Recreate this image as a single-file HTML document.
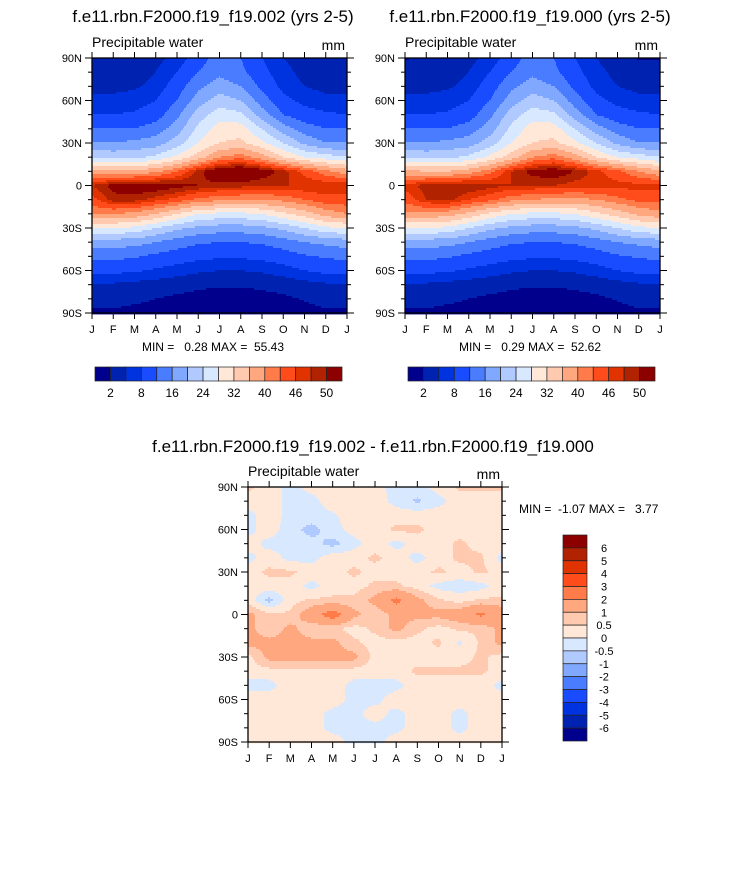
<!DOCTYPE html>
<html><head><meta charset="utf-8"><style>
body{margin:0;background:#fff;font-family:"Liberation Sans",sans-serif;}
svg text{font-family:"Liberation Sans",sans-serif;fill:#000;white-space:pre;}
</style></head><body>
<svg id="root" width="733" height="869" viewBox="0 0 733 869" xmlns="http://www.w3.org/2000/svg">
<rect width="733" height="869" fill="#fff"/>
</svg>
<script>
const months = ["J","F","M","A","M","J","J","A","S","O","N","D","J"];
const lats = [90,80,70,60,50,40,30,20,10,0,-10,-20,-30,-40,-50,-60,-70,-80,-90];
const latTicks = ["90N","60N","30N","0","30S","60S","90S"];
const colors = ["#00008c","#0022b0","#0033e0","#1a4cff","#4a7cff","#80a8ff","#b0caff","#d8e8ff","#ffe8d8","#ffcab0","#ffa880","#ff7c4a","#ff4c1a","#e03300","#b02200","#8c0000"];
const pwLevels = [2,5,8,12,16,20,24,28,32,36,40,43,46,48,50];
const pwLabels = ["2","8","16","24","32","40","46","50"];
const diffLevels = [-6,-5,-4,-3,-2,-1,-0.5,0,0.5,1,2,3,4,5,6];
const diffLabels = ["-6","-5","-4","-3","-2","-1","-0.5","0","0.5","1","2","3","4","5","6"];
const pw002 = [
[3,3,3,4,6,10,14,12,8,5,3.5,3,3],
[3.5,3.5,3.5,5,8,12,15,13,9,6,4,3.5,3.5],
[3.8,4,4.5,6,10,15,18,16,11,7,5,4,3.8],
[6,6,6.5,8,12,18,22,20,14,9,7,6,6],
[8,8,8.5,10,15,22,26,25,18,12,9.5,8.5,8],
[12,12,12,14,18,25,30,30,24,18,14,12,12],
[16,16,17,18,22,28,32,33,29,24,19,16,16],
[24,23,23,25,29,34,40,42,38,32,28,26,24],
[38,37,37,39,43,49,53,54,52,49,45,41,38],
[48,51,52,52,51,50,49,49,48,48,48,48,48],
[45,49,49,47,45,42,41,40,40,41,43,45,45],
[40,40,39,36,32,28,27,27,28,31,34,38,40],
[28,28,27,24,21,19,18,18,19,21,24,27,28],
[18,18,17.5,16,14,12.5,12,12,12.5,14,16,17,18],
[13,13,12.5,11,10,9,8.5,8.5,9,10,11.5,12.5,13],
[9,9,8.5,7.5,6.5,5.5,5,5,5.5,6.5,8,9,9],
[4.5,4.5,4,3.5,3,2.5,2.2,2.2,2.5,3,3.8,4.5,4.5],
[3,3,2.5,2,1.5,1.2,1,1,1.2,1.5,2.2,3,3],
[1.5,1.5,1.2,1,0.8,0.6,0.5,0.5,0.6,0.8,1,1.5,1.5]];
const pw000 = [
[1.8,2.5,3,4,6,10,14,12,8,5,3,1.8,1.8],
[3,3.5,3.5,5,8,12,15,13,9,6,4,3,3],
[3.8,4,4.5,6,10,15,18,16,11,7,5,4,3.8],
[6,6,6.5,8,12,18,22,20,14,9,7,6,6],
[8,8,8.5,10,15,22,26,25,18,12,9.5,8.5,8],
[12,12,12,14,18,25,30,30,24,18,14,12,12],
[16,16,17,18,22,28,32,33,29,24,19,16,16],
[24,23,23,25,29,34,40,42,38,32,28,26,24],
[37,36,36,38,42,48,51,52,50,47,44,40,37],
[47,49,50,50,49,48,48,48,47,47,47,47,47],
[44,48,49,46,44,41,40,39,39,40,42,44,44],
[39,39,38,35,31,28,27,27,28,31,34,37,39],
[28,28,27,24,21,19,18,18,19,21,24,27,28],
[18,18,17.5,16,14,12.5,12,12,12.5,14,16,17,18],
[13,13,12.5,11,10,9,8.5,8.5,9,10,11.5,12.5,13],
[9,9,8.5,7.5,6.5,5.5,5,5,5.5,6.5,8,9,9],
[4.5,4.5,4,3.5,3,2.5,2.2,2.2,2.5,3,3.8,4.5,4.5],
[3,3,2.5,2,1.5,1.2,1,1,1.2,1.5,2.2,3,3],
[1.5,1.5,1.2,1,0.8,0.6,0.5,0.5,0.6,0.8,1,1.5,1.5]];
const pwDiff = [
[0.6,0.3,-0.2,0.2,0.3,0.3,0.2,-0.2,-0.2,0.2,0.6,0.6,0.6],
[0.3,0.3,-0.2,-0.2,0.3,0.3,0.3,-0.2,-0.6,-0.2,0.3,0.3,0.3],
[-0.2,0.3,-0.2,-0.2,-0.1,0.3,0.3,0.3,0.3,0.3,0.3,0.3,0.3],
[-0.2,0.3,-0.3,-0.7,-0.2,0.2,0.3,0.6,0.6,0.3,0.3,0.3,0.3],
[0.3,-0.2,-0.2,-0.3,-0.7,-0.2,0.3,-0.2,0.3,0.3,0.6,0.3,0.3],
[-0.2,0.3,-0.2,-0.2,0.3,0.3,0.6,0.3,-0.2,0.3,0.6,0.6,-0.2],
[0.3,0.6,0.6,0.3,0.3,0.6,0.3,0.3,0.3,0.6,0.3,0.6,0.3],
[0.3,0.3,0.3,-0.2,0.3,0.3,0.6,0.6,0.3,-0.2,-0.3,-0.2,0.3],
[0.3,-0.7,0.3,0.6,0.6,0.6,1.2,2.3,1.2,0.6,0.3,0.6,0.6],
[1.2,0.6,0.6,1.5,2.6,1.2,0.6,1.2,1.2,1.2,1.5,2.2,1.5],
[1.2,0.6,1.2,0.6,0.6,0.3,0.6,1.2,0.6,0.3,0.6,0.6,1.2],
[1.2,1.2,1.2,1.2,1.2,0.6,0.3,0.3,0.3,0.6,-0.1,0.6,1.2],
[0.3,1.2,1.2,1.2,1.2,1.2,0.3,0.3,0.3,0.3,0.3,0.6,0.3],
[0.3,0.3,0.3,0.3,0.3,0.3,0.3,0.3,0.6,0.6,0.6,0.6,0.3],
[-0.2,-0.2,0.3,0.3,0.3,-0.2,-0.2,-0.2,0.3,0.3,0.3,0.3,-0.2],
[0.3,0.3,0.3,0.3,0.3,-0.2,-0.2,0.3,0.3,0.3,0.3,0.3,0.3],
[0.3,0.3,0.3,0.3,-0.2,-0.2,0.3,-0.2,0.3,0.3,-0.2,0.3,0.3],
[0.3,0.3,0.3,0.3,-0.2,-0.2,-0.2,-0.2,0.3,0.3,-0.2,0.3,0.3],
[0.3,0.3,0.3,0.3,0.3,-0.2,-0.2,0.3,0.3,0.3,0.3,0.3,0.3]];

const NS="http://www.w3.org/2000/svg";
const root=document.getElementById('root');
function mk(tag,attrs,parent){const e=document.createElementNS(NS,tag);for(const k in attrs)e.setAttribute(k,attrs[k]);(parent||root).appendChild(e);return e;}
function txt(s,x,y,size,anchor,parent){const t=mk('text',{x:x,y:y,'font-size':size,'text-anchor':anchor||'start'},parent);t.textContent=s;return t;}
function levelIdx(v,levels){let i=0;while(i<levels.length&&v>=levels[i])i++;return i;}
function sample(grid,latDeg,monthPos){
  const r=(90-latDeg)/10, c=monthPos;
  const r0=Math.min(Math.floor(r),grid.length-2), c0=Math.min(Math.floor(c),grid[0].length-2);
  const fr=r-r0, fc=c-c0;
  return grid[r0][c0]*(1-fr)*(1-fc)+grid[r0][c0+1]*(1-fr)*fc+grid[r0+1][c0]*fr*(1-fc)+grid[r0+1][c0+1]*fr*fc;
}
function panel(name,x0,y0,w,h,grid,levels){
  const g=mk('g',{},root);
  
  
  const xs=m=>x0+m*w/(months.length-1);
  const ys=l=>y0+(90-l)*h/180;
  const step=2;
  for(let py=0;py<h;py+=step){
    const lat=90-(py+step/2)*180/h;
    let start=0,cur=null;
    for(let px=0;px<=w;px++){
      let idx=null;
      if(px<w){const mp=(px+0.5)/w*(months.length-1);idx=levelIdx(sample(grid,lat,mp),levels);}
      if(idx!==cur){
        if(cur!==null){const r=mk('rect',{x:x0+start,y:y0+py,width:px-start+0.5,height:step+0.4,fill:colors[cur]},g);
          
          }
        cur=idx;start=px;
      }
    }
  }
  const fr=mk('rect',{x:x0,y:y0,width:w,height:h,fill:'none',stroke:'#000','stroke-width':1.3},g);
  
  
  months.forEach((m,i)=>{
    const x=xs(i);
    mk('line',{x1:x,x2:x,y1:y0,y2:y0-6,stroke:'#000'},g);
    mk('line',{x1:x,x2:x,y1:y0+h,y2:y0+h+6,stroke:'#000'},g);
    const t=txt(m,x,y0+h+20,11,'middle',g);
    
    
  });
  for(let l=90;l>=-90;l-=10){
    const y=ys(l), major=(l%30===0), len=major?7:4;
    mk('line',{x1:x0,x2:x0-len,y1:y,y2:y,stroke:'#000'},g);
    mk('line',{x1:x0+w,x2:x0+w+len,y1:y,y2:y,stroke:'#000'},g);
  }
  latTicks.forEach((s,i)=>{
    const t=txt(s,x0-10,ys(90-30*i)+4,11,'end',g);
    
    
  });
  const a=txt('Precipitable water',x0,y0-11,14,'start',g);
  
  
  const b=txt('mm',x0+w-2,y0-8,14,'end',g);
  
  
}
function hbar(name,x0,y0,w,h,labels){
  const g=mk('g',{},root);
  
  
  const bw=w/colors.length;
  colors.forEach((c,i)=>{const r=mk('rect',{x:x0+i*bw,y:y0,width:bw,height:h,fill:c,stroke:'#222','stroke-width':0.7},g);
    
    });
  labels.forEach((s,i)=>{const t=txt(s,x0+(2*i+1)*bw,y0+h+16,12,'middle',g);
    
    });
}
function vbar(name,x0,y0,w,h,labels){
  const g=mk('g',{},root);
  
  
  const bh=h/colors.length;
  colors.slice().reverse().forEach((c,i)=>{const r=mk('rect',{x:x0,y:y0+i*bh,width:w,height:bh,fill:c,stroke:'#222','stroke-width':0.7},g);
    
    });
  labels.slice().reverse().forEach((s,i)=>{const t=txt(s,x0+w+17,y0+(i+1)*bh+4,11,'middle',g);
    
    });
}
let t;
t=txt('f.e11.rbn.F2000.f19_f19.002 (yrs 2-5)',213,22,17,'middle');
t=txt('f.e11.rbn.F2000.f19_f19.000 (yrs 2-5)',530,22,17,'middle');
t=txt('f.e11.rbn.F2000.f19_f19.002 - f.e11.rbn.F2000.f19_f19.000',373,452,17,'middle');
panel('panel-002',92,58,255,255,pw002,pwLevels);
panel('panel-000',405,58,255,255,pw000,pwLevels);
panel('panel-diff',248,487,254,255,pwDiff,diffLevels);
t=txt('MIN =   0.28 MAX =  55.43',213,351,12,'middle');
t=txt('MIN =   0.29 MAX =  52.62',530,351,12,'middle');
t=txt('MIN =  -1.07 MAX =   3.77',519,513,12,'start');
hbar('left-colorbar',95,367,247,14,pwLabels);
hbar('right-colorbar',408,367,247,14,pwLabels);
vbar('diff-colorbar',563,535,24,206,diffLabels);
</script>
</body></html>
